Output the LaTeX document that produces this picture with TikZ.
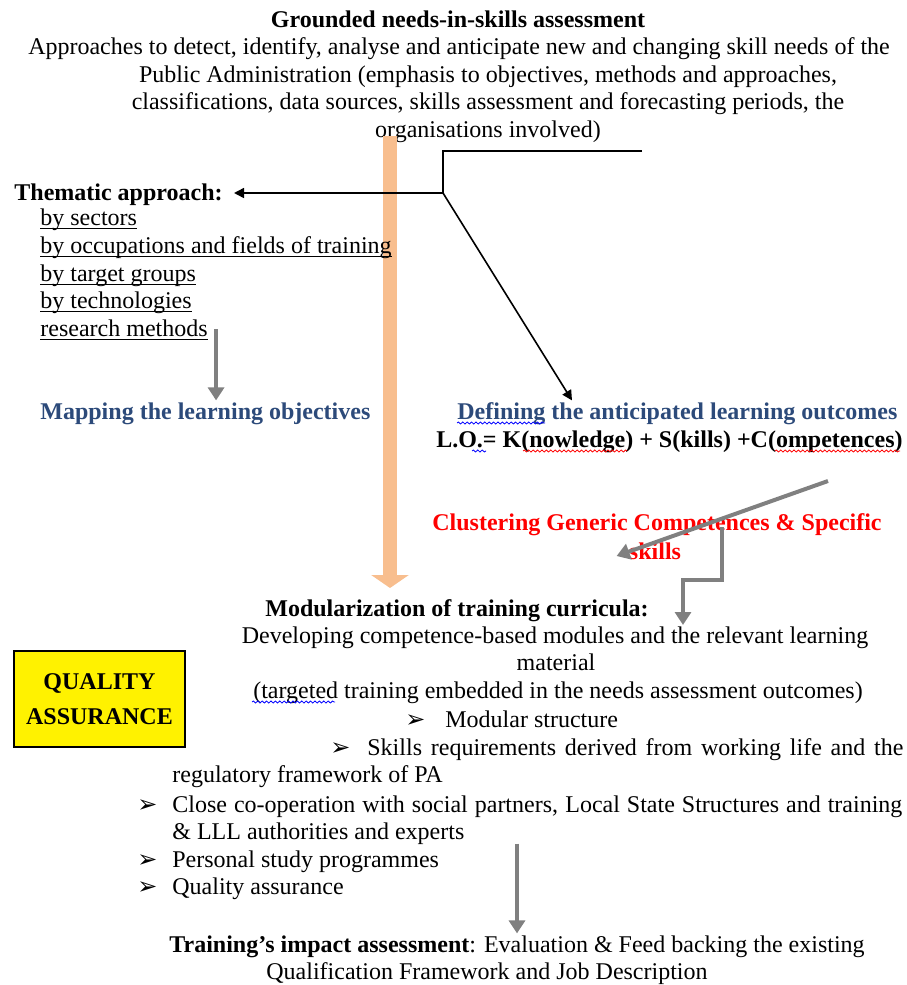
\documentclass[tikz,border=0pt]{standalone}
\usepackage{fontspec}
\setmainfont{Liberation Serif}
\newfontfamily\dingfont{DejaVu Sans}
\usetikzlibrary{arrows.meta, positioning, decorations.pathmorphing}
\definecolor{headblue}{RGB}{44,74,122}
\definecolor{flowgrey}{RGB}{128,128,128}
\definecolor{pipeorange}{RGB}{248,190,142}
\newcommand{\bul}{{\dingfont\fontsize{12}{12}\selectfont ➢}}
\newcommand{\ulin}[1]{\underline{\smash{#1}\vphantom{a}}}

\begin{document}
\begin{tikzpicture}[x=0.5pt, y=-0.5pt,
  txt/.style={inner sep=0pt, text height=9.5pt, text depth=1.7pt, font=\fontsize{12}{13.8}\selectfont},
  txtb/.style={txt, font=\fontsize{12}{13.8}\selectfont\bfseries},
  grey arrow/.style={draw=flowgrey, line width=2pt, -{Triangle[width=8pt, length=6.5pt]}},
  black arrow/.style={line width=0.8pt, -{Triangle[width=5pt, length=5pt]}},
  squiggle/.style={decorate, decoration={snake, amplitude=0.5pt, segment length=2.2pt}, line width=0.4pt}]
\useasboundingbox (0,0) rectangle (906,985);
% needs assessment
\node[txtb] (grounded) at (458,20) {Grounded needs-in-skills assessment};
\node[txt] (approach1) at (459,47) {Approaches to detect, identify, analyse and anticipate new and changing skill needs of the};
\node[txt] (approach2) at (488,75) {Public Administration (emphasis to objectives, methods and approaches,};
\node[txt] (approach3) at (488,102) {classifications, data sources, skills assessment and forecasting periods, the};
\node[txt] (approach4) at (488,130) {organisations involved)};
% orange arrow down the page
\coordinate (ortop) at (390,136);
\coordinate (orbot) at (390,588);
\draw[pipeorange, line width=7pt, -{Triangle[width=18.5pt, length=6.5pt]}] (ortop) -- (orbot);
% thematic approach
\node[txtb, anchor=west] (thematic) at (14,193) {Thematic approach:};
\node[txt, anchor=west] (sectors) at (40,218) {\ulin{by sectors}};
\node[txt, anchor=west] (occup) at (40,246) {\ulin{by occupations and fields of training}};
\node[txt, anchor=west] (groups) at (40,274) {\ulin{by target groups}};
\node[txt, anchor=west] (techno) at (40,301) {\ulin{by technologies}};
\node[txt, anchor=west] (methods) at (40,329) {\ulin{research methods}};
\node[txtb, anchor=west, text=headblue] (mapping) at (40,412) {Mapping the learning objectives};
\node[txtb, anchor=west, text=headblue] (defining) at (457,412) {Defining the anticipated learning outcomes};
\node[txtb, anchor=east] (lo) at (903,440) {L.O.= K(nowledge) + S(kills) +C(ompetences)};
% black connector
\coordinate (jtop) at (642,151);
\coordinate (jknee) at (443,151);
\coordinate (jfork) at (443,193);
\draw[line width=0.8pt] (jtop) -- (jknee) -- (jfork);
\draw[black arrow] (jfork) -- ([xshift=5.5pt]thematic.east);
\draw[black arrow] (jfork) -- ([xshift=57.5pt]defining.north west);
\draw[grey arrow] ([xshift=4pt]methods.east) -- ([xshift=4pt]methods.east |- mapping.north);
% clustering
\node[txtb, text=red] (cluster) at (657,523) {Clustering Generic Competences \& Specific};
\node[txtb, text=red] (skills) at (655,552) {skills};
\coordinate (lotail) at (828,481);
\draw[grey arrow] (lotail) -- ([xshift=-6pt, yshift=-2pt]skills.west);
\coordinate (cltail) at (722,527);
\draw[grey arrow] (cltail) -- ++(0,53) -- ++(-39,0) -- ++(0,45);
% modularization
\node[txtb] (modular) at (457,609) {Modularization of training curricula:};
\node[txt] (develop) at (555,636) {Developing competence-based modules and the relevant learning};
\node[txt] (material) at (556,663) {material};
\node[txt] (targeted) at (558,691) {(targeted training embedded in the needs assessment outcomes)};
\node[txt, anchor=west] (bul1) at (405,720) {\bul};
\node[txt, anchor=west] (modstruct) at (445,720) {Modular structure};
\node[txt, anchor=west] (bul2) at (330,748) {\bul};
\node[txt, anchor=west] (skillsreq) at (367,748) {\makebox[268pt][s]{Skills requirements derived from working life and the}};
\node[txt, anchor=west] (regul) at (172,775) {regulatory framework of PA};
\node[txt, anchor=west] (bul3) at (137,805) {\bul};
\node[txt, anchor=west] (coop) at (172,805) {\makebox[365pt][s]{Close co-operation with social partners, Local State Structures and training}};
\node[txt, anchor=west] (lll) at (172,832) {\& LLL authorities and experts};
\node[txt, anchor=west] (bul4) at (137,860) {\bul};
\node[txt, anchor=west] (personal) at (172,860) {Personal study programmes};
\node[txt, anchor=west] (bul5) at (137,887) {\bul};
\node[txt, anchor=west] (quality) at (172,887) {Quality assurance};
% quality box
\node[draw, line width=1pt, fill=yellow, minimum width=85.5pt, minimum height=48pt, align=center,
  font=\fontsize{12}{13.8}\selectfont\bfseries] (qa) at (99.5,699) {QUALITY\\[4pt]ASSURANCE};
% impact
\node[txt] (impact) at (517,945) {\textbf{Training’s impact assessment}: Evaluation \& Feed backing the existing};
\node[txt] (qualif) at (487,972) {Qualification Framework and Job Description};
\draw[grey arrow] (impact.north |- lll.south) -- (impact.north);
% spelling marks
\draw[squiggle, blue] (457,423) -- (545,423);
\draw[squiggle, blue] (472,451) -- (486,451);
\draw[squiggle, red] (523,451) -- (627,451);
\draw[squiggle, red] (775,451) -- (900,451);
\draw[squiggle, blue] (252,702) -- (335,702);
\end{tikzpicture}
\end{document}
